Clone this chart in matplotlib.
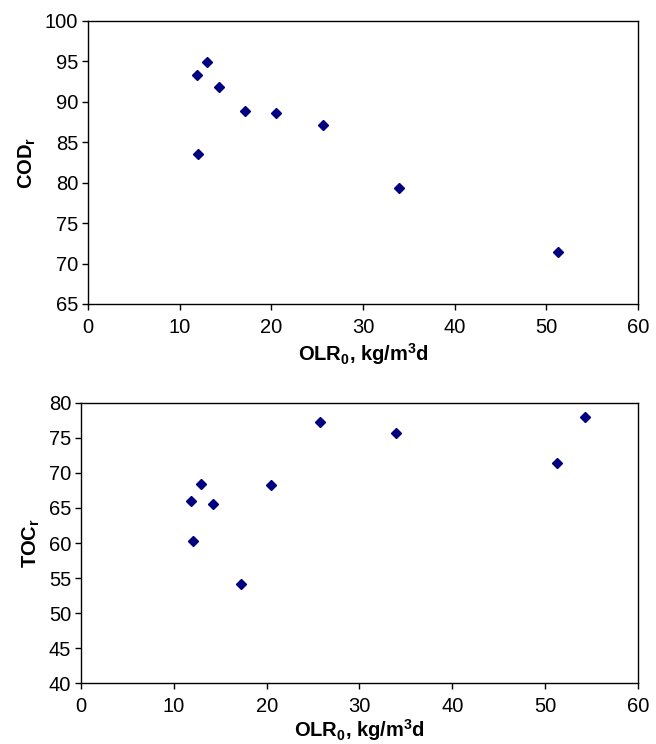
import matplotlib.pyplot as plt

plt.rcParams['font.family'] = ['Liberation Sans', 'DejaVu Sans']
plt.rcParams['mathtext.fontset'] = 'custom'
plt.rcParams['mathtext.rm'] = 'Liberation Sans'
plt.rcParams['mathtext.bf'] = 'Liberation Sans:bold'

# COD removal vs initial OLR
olr_cod = [11.85, 13.0, 14.3, 17.15, 20.5, 25.6, 12.0, 33.9, 51.3]
cod_r = [93.3, 94.9, 91.8, 88.9, 88.6, 87.1, 83.6, 79.3, 71.4]

# TOC removal vs initial OLR
olr_toc = [25.7, 12.96, 20.5, 11.8, 14.26, 12.1, 17.2, 33.9, 51.3, 54.3]
toc_r = [77.2, 68.4, 68.2, 66.0, 65.6, 60.3, 54.2, 75.7, 71.4, 77.9]

xticks = [0, 10, 20, 30, 40, 50, 60]
cod_ticks = [65, 70, 75, 80, 85, 90, 95, 100]
toc_ticks = [40, 45, 50, 55, 60, 65, 70, 75, 80]

xlabel = r'$\mathbf{OLR_0}$, kg/m$^\mathbf{3}$d'


def setup(ax, yticks, ylabel, xpad):
    ax.set_xlim(0, 60)
    ax.set_ylim(yticks[0], yticks[-1])
    ax.set_xticks(xticks)
    ax.set_yticks(yticks)
    ax.tick_params(direction='out', length=4, width=1, labelsize=14.5, colors='black')
    ax.tick_params(axis='x', pad=6)
    ax.tick_params(axis='y', pad=3)
    for sp in ax.spines.values():
        sp.set_linewidth(1)
        sp.set_color('black')
    ax.set_xlabel(xlabel, fontsize=14.5, fontweight='bold', labelpad=xpad)
    ax.set_ylabel(ylabel, fontsize=14.5, fontweight='bold', labelpad=5)


fig = plt.figure(figsize=(6.56, 7.44), dpi=100)

ax1 = fig.add_axes([0.134, 0.5914, 0.8386, 0.3804])
ax1.plot(olr_cod, cod_r, linestyle='none', marker='D', markersize=5,
         color='#000080')
setup(ax1, cod_ticks, r'$\mathbf{COD_r}$', 3)

ax2 = fig.add_axes([0.1235, 0.0816, 0.849, 0.3771])
ax2.plot(olr_toc, toc_r, linestyle='none', marker='D', markersize=5,
         color='#000080')
setup(ax2, toc_ticks, r'$\mathbf{TOC_r}$', 1)

plt.savefig('out.png', dpi=100)
